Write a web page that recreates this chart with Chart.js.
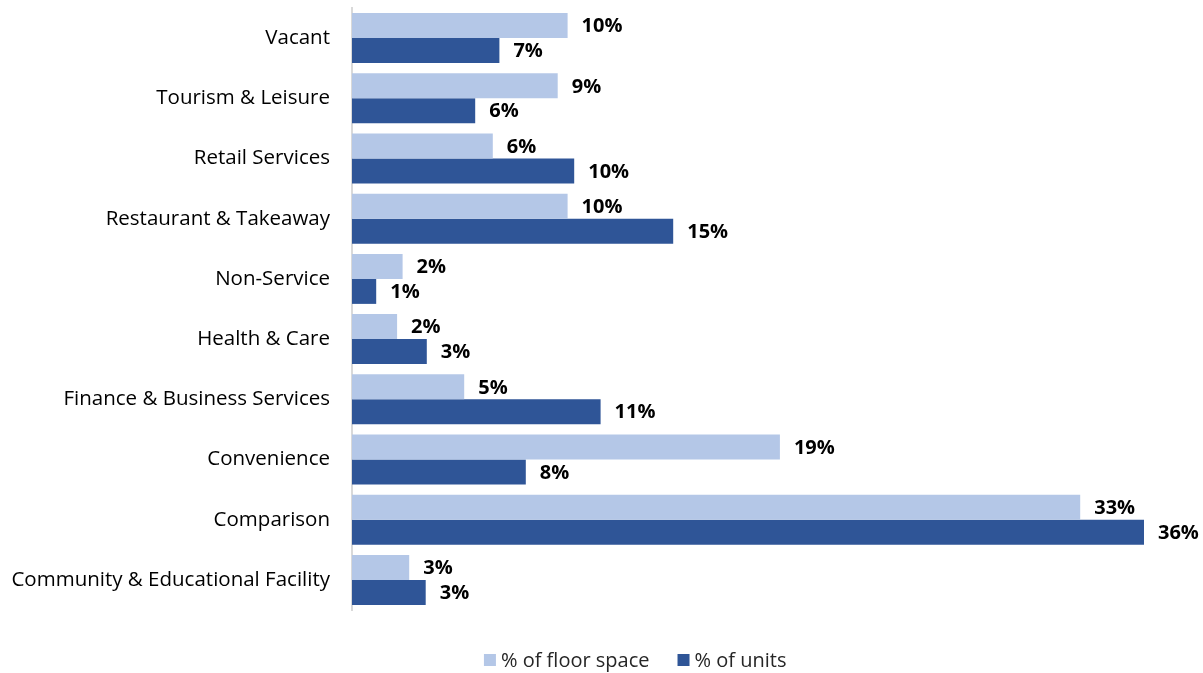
<!DOCTYPE html>
<html>
<head>
<meta charset="utf-8">
<script src="https://cdn.jsdelivr.net/npm/chart.js@4/dist/chart.umd.min.js"></script>
<style>
    html, body { margin: 0; padding: 0; background: #fff; }
    #wrap { width: 1203px; height: 673px; position: relative; }
</style>
</head>
<body>
<div id="wrap"><canvas id="useChart"></canvas></div>
<script>
(function() {
    'use strict';

    var categories = [
        'Vacant', 'Tourism & Leisure', 'Retail Services', 'Restaurant & Takeaway',
        'Non-Service', 'Health & Care', 'Finance & Business Services',
        'Convenience', 'Comparison', 'Community & Educational Facility'
    ];
    var floorSpace = [9.8, 9.35, 6.4, 9.8, 2.3, 2.05, 5.1, 19.45, 33.1, 2.6];
    var units = [6.7, 5.6, 10.1, 14.6, 1.1, 3.4, 11.3, 7.9, 36.0, 3.35];
    var seriesNames = ['% of floor space', '% of units'];
    var seriesColors = ['#B4C7E7', '#2F5597'];

    var FONT = "'Open Sans', 'Noto Sans', sans-serif";

    // bold percentage labels just past the end of each bar
    var valueLabels = {
        id: 'valueLabels',
        afterDatasetsDraw: function(chart) {
            var ctx = chart.ctx;
            ctx.save();
            ctx.font = 'bold 20px ' + FONT;
            ctx.fillStyle = '#000';
            ctx.textAlign = 'left';
            ctx.textBaseline = 'middle';
            chart.data.datasets.forEach(function(ds, i) {
                var meta = chart.getDatasetMeta(i);
                meta.data.forEach(function(bar, j) {
                    ctx.fillText(Math.round(ds.data[j]) + '%', bar.x + 14, bar.y + 1);
                });
            });
            ctx.restore();
        }
    };

    // legend drawn by hand: Excel puts it a bit right of centre, with a tight box-text gap
    var bottomLegend = {
        id: 'bottomLegend',
        afterDraw: function(chart) {
            var ctx = chart.ctx;
            var box = 12, gap = 5, spacing = 28;
            ctx.save();
            ctx.font = '20px ' + FONT;
            var widths = chart.data.datasets.map(function(ds) { return ctx.measureText(ds.label).width; });
            var total = 0;
            widths.forEach(function(w, i) { total += box + gap + w + (i > 0 ? spacing : 0); });
            var x = chart.width * 0.528 - total / 2;
            var y = chart.chartArea.bottom + 50;
            ctx.textBaseline = 'middle';
            ctx.textAlign = 'left';
            chart.data.datasets.forEach(function(ds, i) {
                ctx.fillStyle = ds.backgroundColor;
                ctx.fillRect(x, y - box / 2, box, box);
                ctx.fillStyle = '#262626';
                ctx.fillText(ds.label, x + box + gap, y + 1);
                x += box + gap + widths[i] + spacing;
            });
            ctx.restore();
        }
    };

    new Chart(document.getElementById('useChart'), {
        type: 'bar',
        data: {
            labels: categories,
            datasets: [{
                label: seriesNames[0],
                data: floorSpace,
                backgroundColor: seriesColors[0],
                borderWidth: 0
            }, {
                label: seriesNames[1],
                data: units,
                backgroundColor: seriesColors[1],
                borderWidth: 0
            }]
        },
        options: {
            indexAxis: 'y',
            responsive: true,
            maintainAspectRatio: false,
            animation: false,
            layout: { padding: { top: 8, right: 15, left: 0, bottom: 0 } },
            datasets: { bar: { categoryPercentage: 0.83, barPercentage: 1.0 } },
            plugins: {
                tooltip: { enabled: false },
                legend: { display: false }
            },
            scales: {
                x: {
                    min: 0,
                    max: 38,
                    grid: { display: false, drawTicks: false },
                    border: { display: false },
                    ticks: { display: false },
                    afterFit: function(scale) { scale.height = 63; scale.paddingLeft = 0; scale.paddingRight = 0; }
                },
                y: {
                    grid: { display: false, drawTicks: false },
                    border: { display: true, color: '#D9D9D9', width: 2 },
                    ticks: {
                        font: { family: FONT, size: 20.5 },
                        color: '#000',
                        padding: 22
                    },
                    afterFit: function(scale) {
                        scale.width = 352;
                        scale.paddingTop = 0;
                        scale.paddingBottom = 0;
                    }
                }
            }
        },
        plugins: [valueLabels, bottomLegend]
    });
})();
</script>
</body>
</html>
